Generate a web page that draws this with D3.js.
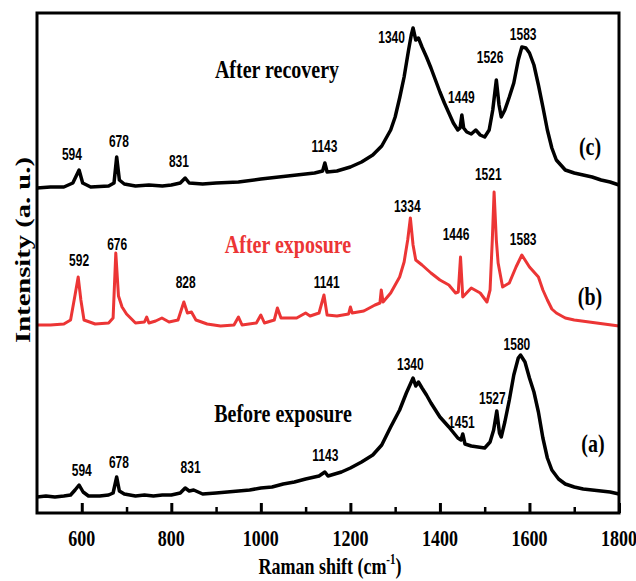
<!DOCTYPE html>
<html>
<head>
<meta charset="utf-8">
<script src="https://cdn.jsdelivr.net/npm/d3@7"></script>
<style>
body { margin: 0; background: #fff; }
</style>
</head>
<body>
<div id="chart"></div>
<script>
var width = 636,
	height = 581;

// spectra: [Raman shift, intensity (a.u., offset)]
var specA = [[500,16],[520,17],[540,16],[560,17],[575,18],[585,23],[594,28],[603,21],[615,17],[640,17],[660,18],[670,20],[678,36],[684,22],[695,19],[720,17],[740,18],[760,17],[780,18],[800,18],[820,20],[831,25],[840,22],[850,23],[870,19],[900,20],[925,21],[950,22],[975,23],[1000,25],[1025,26],[1050,29],[1075,31],[1100,34],[1130,37],[1143,41],[1150,37],[1165,39],[1180,41],[1200,45],[1225,51],[1250,58],[1270,68],[1290,86],[1310,103],[1325,120],[1335,130],[1340,135],[1346,127],[1352,131],[1360,125],[1370,118],[1380,110],[1400,96],[1420,86],[1440,75],[1447,73],[1451,79],[1456,69],[1470,67],[1485,66],[1500,65],[1512,71],[1520,83],[1527,102],[1533,80],[1537,76],[1545,91],[1555,113],[1565,138],[1575,155],[1580,158],[1590,151],[1600,135],[1610,121],[1620,101],[1630,75],[1640,55],[1650,43],[1665,34],[1680,29],[1700,26],[1720,24],[1740,23],[1760,22],[1780,21],[1800,19]];

var specB = [[500,188],[530,188],[560,189],[575,193],[585,218],[592,236],[598,213],[605,193],[630,189],[660,190],[670,195],[676,260],[682,217],[690,206],[700,199],[720,190],[740,191],[745,196],[750,190],[765,192],[779,195],[795,191],[815,193],[828,211],[836,200],[845,201],[855,193],[880,189],[910,187],[940,188],[950,196],[958,188],[990,190],[1000,198],[1008,190],[1030,193],[1037,205],[1045,195],[1080,195],[1100,200],[1110,197],[1130,200],[1141,218],[1148,198],[1170,197],[1196,199],[1200,206],[1204,200],[1230,202],[1255,208],[1266,210],[1269,223],[1273,211],[1290,220],[1310,236],[1320,251],[1328,273],[1334,295],[1340,268],[1346,253],[1360,248],[1380,240],[1400,233],[1420,228],[1435,220],[1441,221],[1446,256],[1451,216],[1470,225],[1490,220],[1505,211],[1512,223],[1517,273],[1521,321],[1526,273],[1530,250],[1540,226],[1555,230],[1570,246],[1583,258],[1600,246],[1620,236],[1630,223],[1640,213],[1650,204],[1660,200],[1680,195],[1700,193],[1750,190],[1800,187]];

var specC = [[500,325],[530,326],[560,326],[580,330],[594,343],[602,330],[620,326],[660,327],[672,330],[678,356],[684,333],[695,329],[720,327],[750,328],[780,327],[800,328],[820,330],[831,335],[840,330],[870,329],[900,330],[950,331],[1000,334],[1040,336],[1080,338],[1120,340],[1138,342],[1143,350],[1148,341],[1170,342],[1200,346],[1225,351],[1250,358],[1270,367],[1290,383],[1300,396],[1310,415],[1320,436],[1330,463],[1336,478],[1340,485],[1346,473],[1352,475],[1360,466],[1370,456],[1380,445],[1390,433],[1400,421],[1410,410],[1420,400],[1430,390],[1440,383],[1445,385],[1449,398],[1453,385],[1460,381],[1470,379],[1480,383],[1490,378],[1500,376],[1510,383],[1518,403],[1526,433],[1532,408],[1537,396],[1545,403],[1555,416],[1565,430],[1575,453],[1583,466],[1592,465],[1600,460],[1610,448],[1620,428],[1630,406],[1640,383],[1650,365],[1660,353],[1680,343],[1700,340],[1720,338],[1740,336],[1760,333],[1780,331],[1800,328]];

// peak labels: [Raman shift, intensity, text]
var peaksA = [[600,37,"594"],[683,45,"678"],[843,40,"831"],[1144,52,"1143"],[1334,143,"1340"],[1448,85,"1451"],[1517,109,"1527"],[1572,163,"1580"]];
var peaksB = [[594,247,"592"],[679,263,"676"],[832,225,"828"],[1147,225,"1141"],[1327,301,"1334"],[1436,273,"1446"],[1508,333,"1521"],[1586,268,"1583"]];
var peaksC = [[578,353,"594"],[683,366,"678"],[817,346,"831"],[1142,361,"1143"],[1292,470,"1340"],[1448,410,"1449"],[1512,450,"1526"],[1586,473,"1583"]];

var majorTicks = [600, 800, 1000, 1200, 1400, 1600, 1800];
var minorTicks = [700, 900, 1100, 1300, 1500, 1700];

var serif = "'Liberation Serif', 'Times New Roman', serif";
var sans = "'Liberation Sans', Arial, sans-serif";

var svg = d3.select("#chart")
	.append("svg")
	.attr("width", width)
	.attr("height", height);

var x = d3.scaleLinear().domain([500, 1800]).range([37, 619]);
var y = d3.scaleLinear().domain([0, 500]).range([513, 13]);

// text is stretched vertically in the original
function label(g, px, py, txt, size, family, anchor, fill) {
	return g.append("text")
		.attr("transform", "translate(" + px + "," + py + ") scale(1,1.3)")
		.attr("text-anchor", anchor || "middle")
		.attr("font-family", family)
		.attr("font-weight", "bold")
		.attr("font-size", size)
		.attr("fill", fill || "#000")
		.text(txt);
}

var line = d3.line()
	.x(function(d){ return x(d[0]); })
	.y(function(d){ return y(d[1]); });

var curves = svg.append("g");
curves.append("path").datum(specA)
	.attr("d", line).attr("fill", "none")
	.attr("stroke", "#000").attr("stroke-width", 3.5).attr("stroke-linejoin", "round");
curves.append("path").datum(specB)
	.attr("d", line).attr("fill", "none")
	.attr("stroke", "#ec3535").attr("stroke-width", 3).attr("stroke-linejoin", "round");
curves.append("path").datum(specC)
	.attr("d", line).attr("fill", "none")
	.attr("stroke", "#000").attr("stroke-width", 3.5).attr("stroke-linejoin", "round");

// peak numbers
var lab = svg.append("g");
[peaksA, peaksB, peaksC].forEach(function(arr){
	arr.forEach(function(p){
		label(lab, x(p[0]), y(p[1]), p[2], 12, sans);
	});
});

// axes (ticks inward)
svg.append("g")
	.attr("transform", "translate(0,513)")
	.call(d3.axisBottom(x).tickValues(majorTicks).tickSize(-10).tickFormat(""))
	.call(function(g){
		g.select(".domain").remove();
		g.selectAll("line").attr("stroke", "#000").attr("stroke-width", 3);
	});
svg.append("g")
	.attr("transform", "translate(0,513)")
	.call(d3.axisBottom(x).tickValues(minorTicks).tickSize(-6).tickFormat(""))
	.call(function(g){
		g.select(".domain").remove();
		g.selectAll("line").attr("stroke", "#000").attr("stroke-width", 2.5);
	});

majorTicks.forEach(function(t){
	label(svg, x(t), 546, t, 18, serif);
});

svg.append("rect")
	.attr("x", 37).attr("y", 13)
	.attr("width", 582).attr("height", 500)
	.attr("fill", "none")
	.attr("stroke", "#000")
	.attr("stroke-width", 3);

// titles
label(svg, 277, 78, "After recovery", 20, serif);
label(svg, 288, 253, "After exposure", 20, serif, "middle", "#ec3535");
label(svg, 283, 422, "Before exposure", 20, serif);
label(svg, 590, 155, "(c)", 20, serif);
label(svg, 590, 305, "(b)", 20, serif);
label(svg, 593, 452, "(a)", 20, serif);

var xt = label(svg, 330, 574, "Raman shift (cm", 18, serif);
xt.append("tspan").attr("font-size", 11).attr("dy", -8).text("-1");
xt.append("tspan").attr("dy", 8).text(")");

svg.append("text")
	.attr("transform", "translate(30,250) rotate(-90) scale(1.3,1)")
	.attr("text-anchor", "middle")
	.attr("font-family", serif)
	.attr("font-weight", "bold")
	.attr("font-size", 22)
	.text("Intensity (a. u.)");
</script>
</body>
</html>
